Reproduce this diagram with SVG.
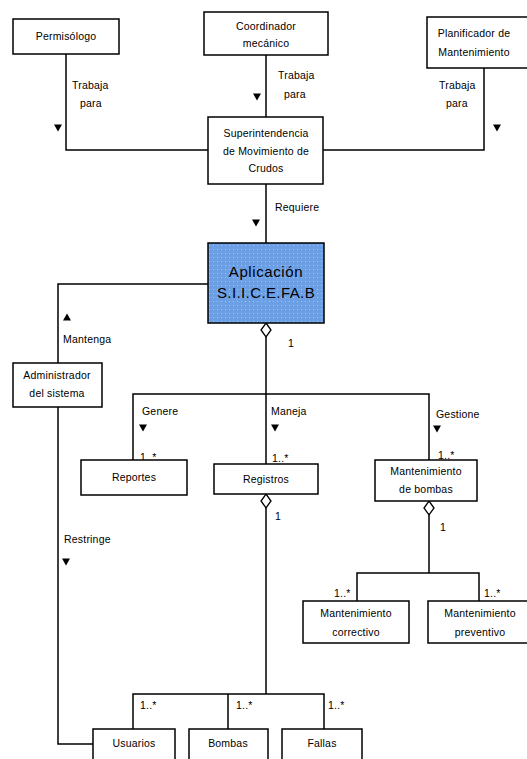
<svg xmlns="http://www.w3.org/2000/svg" width="527" height="759" viewBox="0 0 527 759">
<defs>
<pattern id="dots" width="4" height="4" patternUnits="userSpaceOnUse">
<rect width="4" height="4" fill="#6d9fe4"/>
<rect x="1" y="1" width="1" height="1" fill="#a3c2f2"/>
</pattern>
</defs>
<style>
.box{fill:#fff;stroke:#000;stroke-width:1.5}
.t{font-family:"Liberation Sans",Arial,sans-serif;font-size:10.5px;fill:#000;text-anchor:middle;letter-spacing:0.2px}
.l{font-family:"Liberation Sans",Arial,sans-serif;font-size:10.5px;fill:#000;letter-spacing:0.2px}
.ln{fill:none;stroke:#000;stroke-width:1.5}
.ar{fill:#000}
.dm{fill:#fff;stroke:#000;stroke-width:1.3}
</style>
<rect width="527" height="759" fill="#fff"/>
<g id="connectors">
<polyline class="ln" points="66,54 66,150 208,150"/>
<polyline class="ln" points="266,55 266,117"/>
<polyline class="ln" points="484,68 484,150 323,150"/>
<polyline class="ln" points="266,184 266,243"/>
<polyline class="ln" points="208,284 58,284 58,363"/>
<polyline class="ln" points="266,337 266,464"/>
<polyline class="ln" points="133,460 133,394 429,394 429,460"/>
<polyline class="ln" points="58,407 58,744 93,744"/>
<polyline class="ln" points="266,508 266,694"/>
<polyline class="ln" points="133,729 133,694 324,694 324,729"/>
<polyline class="ln" points="228,694 228,729"/>
<polyline class="ln" points="429,515 429,573"/>
<polyline class="ln" points="357,601 357,573 479,573 479,601"/>
<polygon class="dm" points="266,323 271,330 266,337 261,330"/>
<polygon class="dm" points="266,494 271,501 266,508 261,501"/>
<polygon class="dm" points="429,501 434,508 429,515 424,508"/>
<polygon class="ar" points="54,124.5 62,124.5 58,131.5"/>
<polygon class="ar" points="253,93.5 261,93.5 257,100.5"/>
<polygon class="ar" points="493,124.5 501,124.5 497,131.5"/>
<polygon class="ar" points="252,219.5 260,219.5 256,226.5"/>
<polygon class="ar" points="63,320.5 71,320.5 67,313.5"/>
<polygon class="ar" points="139,424.5 147,424.5 143,431.5"/>
<polygon class="ar" points="271,424.5 279,424.5 275,431.5"/>
<polygon class="ar" points="433,425.5 441,425.5 437,432.5"/>
<polygon class="ar" points="62,558.5 70,558.5 66,565.5"/>
<text class="l" x="72" y="89">Trabaja</text>
<text class="l" x="80" y="107">para</text>
<text class="l" x="278" y="79">Trabaja</text>
<text class="l" x="284" y="98">para</text>
<text class="l" x="439" y="89">Trabaja</text>
<text class="l" x="446" y="107">para</text>
<text class="l" x="275" y="211">Requiere</text>
<text class="l" x="63" y="343">Mantenga</text>
<text class="l" x="288" y="347">1</text>
<text class="l" x="142" y="415">Genere</text>
<text class="l" x="271" y="415">Maneja</text>
<text class="l" x="436" y="418">Gestione</text>
<text class="l" x="140" y="461">1..*</text>
<text class="l" x="272" y="462">1..*</text>
<text class="l" x="438" y="459">1..*</text>
<text class="l" x="275" y="520">1</text>
<text class="l" x="440" y="531">1</text>
<text class="l" x="64" y="543">Restringe</text>
<text class="l" x="334" y="597">1..*</text>
<text class="l" x="484" y="597">1..*</text>
<text class="l" x="140" y="709">1..*</text>
<text class="l" x="236" y="709">1..*</text>
<text class="l" x="328" y="709">1..*</text>
</g>
<g id="permisologo"><rect class="box" x="13" y="19" width="106" height="35"/><text class="t" x="66" y="40">Permisólogo</text></g>
<g id="coordinador"><rect class="box" x="204" y="12" width="124" height="43"/><text class="t" x="266" y="30">Coordinador</text><text class="t" x="266" y="47">mecánico</text></g>
<g id="planificador"><rect class="box" x="427" y="17" width="104" height="51"/><text class="t" x="474" y="37">Planificador de</text><text class="t" x="474" y="56">Mantenimiento</text></g>
<g id="superintendencia"><rect class="box" x="208" y="117" width="115" height="67"/><text class="t" x="266" y="137">Superintendencia</text><text class="t" x="266" y="155">de Movimiento de</text><text class="t" x="266" y="172">Crudos</text></g>
<g id="aplicacion"><rect x="208" y="243" width="116" height="80" fill="url(#dots)" stroke="#000" stroke-width="1.5"/><text class="t" x="266" y="277" style="font-size:15px;letter-spacing:0.6px">Aplicación</text><text class="t" x="266" y="298" style="font-size:15px;letter-spacing:0.4px">S.I.I.C.E.FA.B</text></g>
<g id="administrador"><rect class="box" x="13" y="363" width="89" height="44"/><text class="t" x="57" y="379">Administrador</text><text class="t" x="57" y="397">del sistema</text></g>
<g id="reportes"><rect class="box" x="81" y="460" width="106" height="35"/><text class="t" x="134" y="481">Reportes</text></g>
<g id="registros"><rect class="box" x="214" y="464" width="104" height="30"/><text class="t" x="266" y="483">Registros</text></g>
<g id="mant-bombas"><rect class="box" x="375" y="460" width="102" height="41"/><text class="t" x="426" y="475">Mantenimiento</text><text class="t" x="426" y="493">de bombas</text></g>
<g id="mant-correctivo"><rect class="box" x="303" y="601" width="106" height="42"/><text class="t" x="356" y="617">Mantenimiento</text><text class="t" x="356" y="636">correctivo</text></g>
<g id="mant-preventivo"><rect class="box" x="428" y="601" width="103" height="42"/><text class="t" x="480" y="617">Mantenimiento</text><text class="t" x="480" y="636">preventivo</text></g>
<g id="usuarios"><rect class="box" x="93" y="729" width="82" height="40"/><text class="t" x="134" y="747">Usuarios</text></g>
<g id="bombas"><rect class="box" x="189" y="729" width="79" height="40"/><text class="t" x="228" y="747">Bombas</text></g>
<g id="fallas"><rect class="box" x="282" y="729" width="80" height="40"/><text class="t" x="322" y="747">Fallas</text></g>
</svg>
